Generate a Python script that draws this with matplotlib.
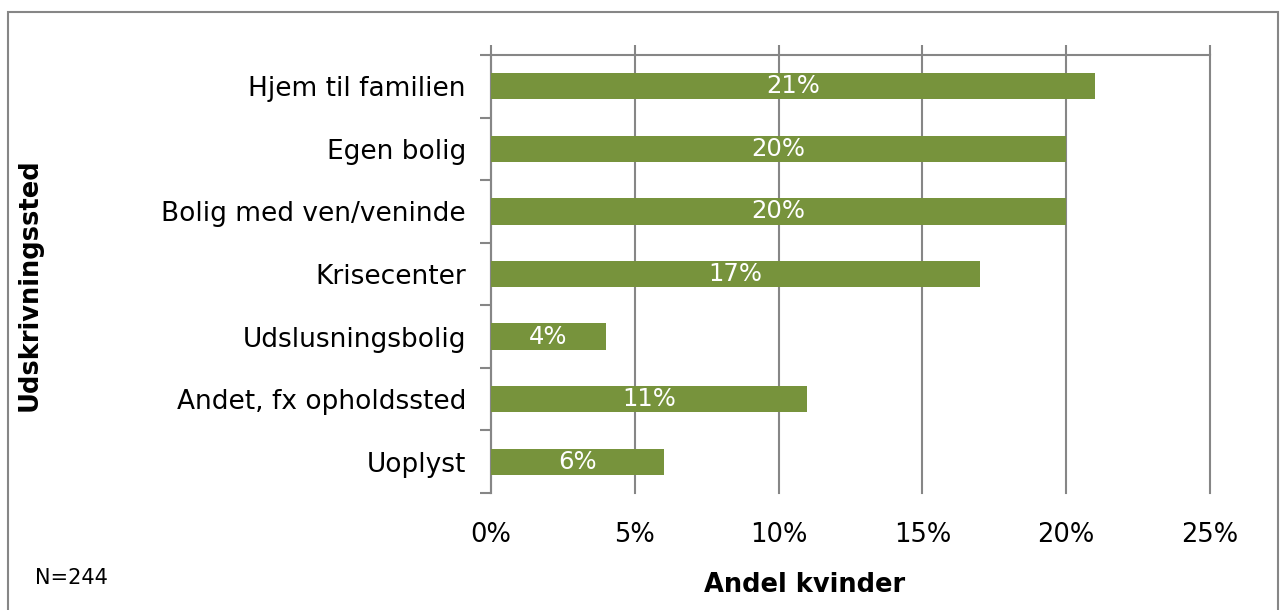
import matplotlib
matplotlib.use("Agg")
from matplotlib import pyplot as plt
from matplotlib.patches import Rectangle
from matplotlib.ticker import FuncFormatter
import numpy as np

# data
categories = ["Hjem til familien", "Egen bolig", "Bolig med ven/veninde",
              "Krisecenter", "Udslusningsbolig", "Andet, fx opholdssted", "Uoplyst"]
values = [21, 20, 20, 17, 4, 11, 6]
x_ticks = [0, 5, 10, 15, 20, 25]

green = "#77933C"
grey = "#868686"

plt.rcParams['font.family'] = ['DejaVu Sans']

fig = plt.figure(figsize=(12.82, 6.10), dpi=100)
ax = fig.add_axes([491/1282, 1-493/610, (1210-491)/1282, (493-55)/610])

# outer frame of the chart area
fig.patches.append(Rectangle((8/1282, -0.05), (1278-8)/1282, 1.05-12/610,
                             transform=fig.transFigure, fill=False,
                             edgecolor=grey, lw=1.5))

y = np.arange(len(categories))
bars = ax.barh(y, values, height=0.42, color=green, zorder=3)

for b, v in zip(bars, values):
    ax.text(v / 2, b.get_y() + b.get_height() / 2, f"{v}%",
            ha="center", va="center", color="white", fontsize=17.5, zorder=4)

ax.set_xlim(0, 25)
ax.set_ylim(len(categories) - 0.5, -0.5)
ax.set_xticks(x_ticks)
ax.xaxis.set_major_formatter(FuncFormatter(lambda v, p: f"{v:.0f}%"))
ax.grid(axis="x", color=grey, lw=1.5, zorder=0)
for gl in ax.get_xgridlines():
    gl.set_clip_on(False)

ax.set_yticks(y)
ax.set_yticklabels(categories)
ax.set_yticks(np.arange(len(categories) + 1) - 0.5, minor=True)

ax.tick_params(axis="x", top=True, bottom=False, labeltop=False, labelbottom=True,
               direction="out", length=7, width=1.5, color=grey, pad=14, labelsize=18.5)
ax.tick_params(axis="y", which="major", length=0, pad=18, labelsize=19)
ax.tick_params(axis="y", which="minor", length=8, width=1.5, color=grey, direction="out")

for s in ["right", "bottom"]:
    ax.spines[s].set_visible(False)
for s in ["top", "left"]:
    ax.spines[s].set_color(grey)
    ax.spines[s].set_linewidth(1.5)

fig.text(30/1282, 1-285/610, "Udskrivningssted", rotation=90, ha="center", va="center",
         fontsize=18.5, fontweight="bold")
fig.text(805/1282, 1-585/610, "Andel kvinder", ha="center", va="center",
         fontsize=18.5, fontweight="bold")
fig.text(35/1282, 1-578/610, "N=244", ha="left", va="center", fontsize=15)

fig.savefig("out.png", dpi=100)
